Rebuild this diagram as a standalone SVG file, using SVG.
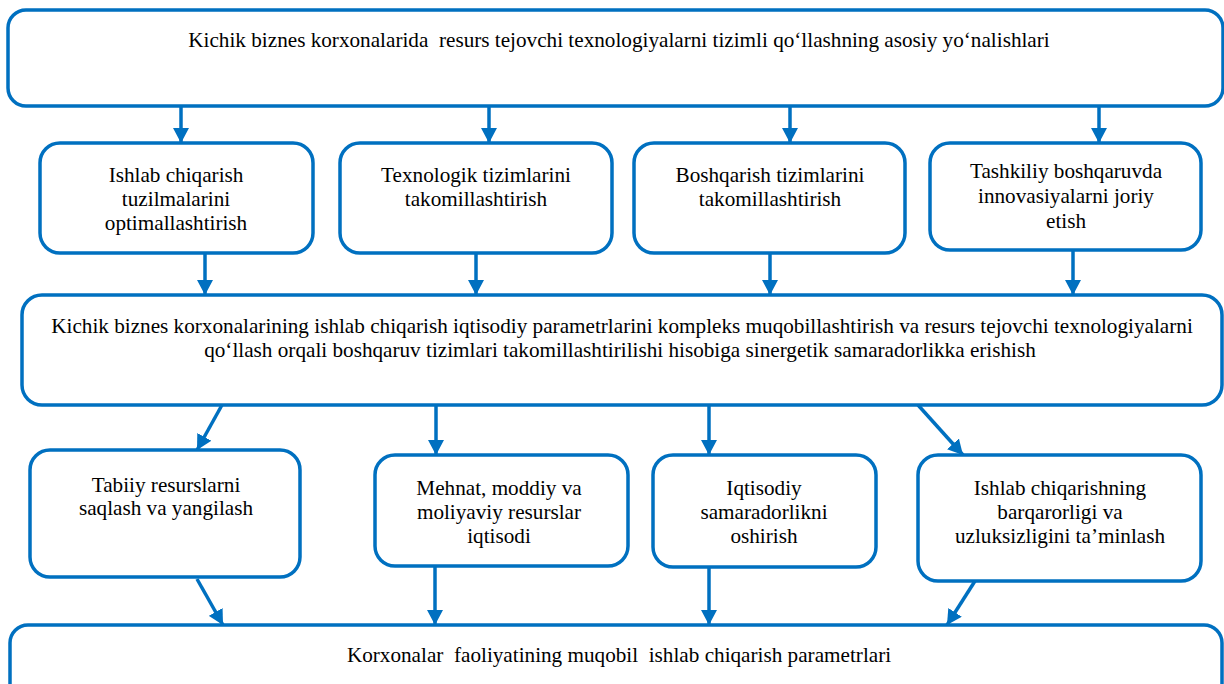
<svg xmlns="http://www.w3.org/2000/svg" width="1224" height="684" viewBox="0 0 1224 684">
<defs>
<style>
.box{fill:#fff;stroke:#0070C0;stroke-width:3.5}
.t{font-family:"Liberation Serif","Times New Roman","DejaVu Serif",serif;font-size:21.2px;fill:#000;text-anchor:middle;white-space:pre}
.c{stroke:#0070C0;stroke-width:3.5;fill:none}
</style>
<marker id="ah" markerUnits="userSpaceOnUse" markerWidth="16" markerHeight="16" refX="15" refY="8" orient="auto">
<path d="M0,0 L15,8 L0,16 z" fill="#0070C0"/>
</marker>
</defs>
<rect width="1224" height="684" fill="#fff"/>
<g id="connectors">
<line class="c" x1="181" y1="106" x2="181" y2="143" marker-end="url(#ah)"/>
<line class="c" x1="489" y1="106" x2="489" y2="143" marker-end="url(#ah)"/>
<line class="c" x1="790" y1="106" x2="790" y2="143" marker-end="url(#ah)"/>
<line class="c" x1="1099" y1="106" x2="1099" y2="143" marker-end="url(#ah)"/>
<line class="c" x1="205" y1="253" x2="205" y2="295" marker-end="url(#ah)"/>
<line class="c" x1="476" y1="253" x2="476" y2="295" marker-end="url(#ah)"/>
<line class="c" x1="770" y1="253" x2="770" y2="295" marker-end="url(#ah)"/>
<line class="c" x1="1073" y1="250" x2="1073" y2="295" marker-end="url(#ah)"/>
<line class="c" x1="222" y1="405" x2="197" y2="450" marker-end="url(#ah)"/>
<line class="c" x1="436" y1="405" x2="436" y2="455" marker-end="url(#ah)"/>
<line class="c" x1="709" y1="405" x2="709" y2="455" marker-end="url(#ah)"/>
<line class="c" x1="918" y1="405" x2="963" y2="455" marker-end="url(#ah)"/>
<line class="c" x1="197" y1="579" x2="223" y2="625" marker-end="url(#ah)"/>
<line class="c" x1="435" y1="566" x2="435" y2="625" marker-end="url(#ah)"/>
<line class="c" x1="709" y1="567" x2="709" y2="625" marker-end="url(#ah)"/>
<line class="c" x1="975" y1="581" x2="947" y2="625" marker-end="url(#ah)"/>
</g>
<g id="top">
<rect class="box" x="8" y="10" width="1215" height="96" rx="18"/>
<text class="t" x="619" y="47" xml:space="preserve">Kichik biznes korxonalarida  resurs tejovchi texnologiyalarni tizimli qo‘llashning asosiy yo‘nalishlari</text>
</g>
<g id="n1">
<rect class="box" x="40" y="143" width="273" height="110" rx="20"/>
<text class="t" x="176" y="182">Ishlab chiqarish</text>
<text class="t" x="176" y="206">tuzilmalarini</text>
<text class="t" x="176" y="230">optimallashtirish</text>
</g>
<g id="n2">
<rect class="box" x="340" y="143" width="272" height="110" rx="20"/>
<text class="t" x="476" y="182">Texnologik tizimlarini</text>
<text class="t" x="476" y="206">takomillashtirish</text>
</g>
<g id="n3">
<rect class="box" x="634" y="143" width="271" height="110" rx="20"/>
<text class="t" x="770" y="182">Boshqarish tizimlarini</text>
<text class="t" x="770" y="206">takomillashtirish</text>
</g>
<g id="n4">
<rect class="box" x="930" y="143" width="271" height="107" rx="20"/>
<text class="t" x="1066" y="178">Tashkiliy boshqaruvda</text>
<text class="t" x="1066" y="203">innovasiyalarni joriy</text>
<text class="t" x="1066" y="228">etish</text>
</g>
<g id="mid">
<rect class="box" x="22" y="295" width="1200" height="110" rx="20"/>
<text class="t" x="622" y="333">Kichik biznes korxonalarining ishlab chiqarish iqtisodiy parametrlarini kompleks muqobillashtirish va resurs tejovchi texnologiyalarni</text>
<text class="t" x="620" y="357">qo‘llash orqali boshqaruv tizimlari takomillashtirilishi hisobiga sinergetik samaradorlikka erishish</text>
</g>
<g id="m1">
<rect class="box" x="30" y="450" width="270" height="127" rx="20"/>
<text class="t" x="166" y="492">Tabiiy resurslarni</text>
<text class="t" x="166" y="515">saqlash va yangilash</text>
</g>
<g id="m2">
<rect class="box" x="375" y="455" width="253" height="111" rx="20"/>
<text class="t" x="499" y="495">Mehnat, moddiy va</text>
<text class="t" x="499" y="519">moliyaviy resurslar</text>
<text class="t" x="499" y="543">iqtisodi</text>
</g>
<g id="m3">
<rect class="box" x="653" y="455" width="223" height="112" rx="20"/>
<text class="t" x="764" y="495">Iqtisodiy</text>
<text class="t" x="764" y="519">samaradorlikni</text>
<text class="t" x="764" y="543">oshirish</text>
</g>
<g id="m4">
<rect class="box" x="918" y="455" width="283" height="126" rx="20"/>
<text class="t" x="1060" y="495">Ishlab chiqarishning</text>
<text class="t" x="1060" y="519">barqarorligi va</text>
<text class="t" x="1060" y="543">uzluksizligini ta’minlash</text>
</g>
<g id="bottom">
<rect class="box" x="10" y="625" width="1212" height="80" rx="18"/>
<text class="t" x="619" y="662" xml:space="preserve">Korxonalar  faoliyatining muqobil  ishlab chiqarish parametrlari</text>
</g>
</svg>
